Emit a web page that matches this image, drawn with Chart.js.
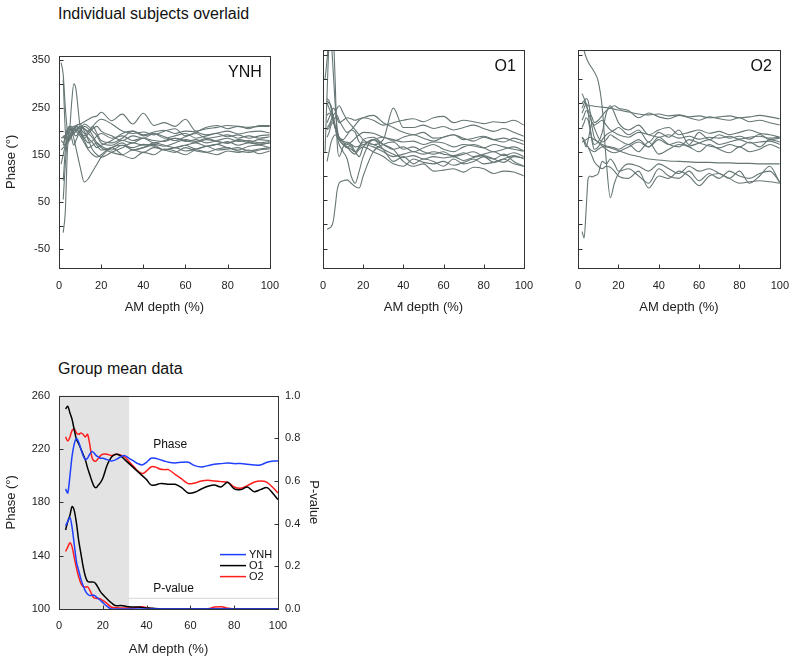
<!DOCTYPE html>
<html><head><meta charset="utf-8">
<script src="https://cdn.jsdelivr.net/npm/chart.js@4.4.1/dist/chart.umd.min.js"></script>
<style>
html,body{margin:0;padding:0;background:#fff;}
#wrap{position:relative;width:800px;height:659px;overflow:hidden;font-family:"Liberation Sans",Arial,sans-serif;background:#fff;}
canvas{position:absolute;}
.title{position:absolute;font-size:16px;line-height:16px;color:#111;white-space:nowrap;}
</style></head><body>
<div id="wrap">
<div class="title" style="left:58px;top:6px;">Individual subjects overlaid</div>
<div class="title" style="left:58px;top:361px;">Group mean data</div>
<canvas id="c1" width="290" height="279" style="left:0px;top:40px;"></canvas>
<canvas id="c2" width="235" height="279" style="left:309px;top:40px;"></canvas>
<canvas id="c3" width="236" height="279" style="left:564px;top:40px;"></canvas>
<canvas id="c4" width="325" height="279" style="left:0px;top:380px;"></canvas>
</div>
<script>
// ---------- top panels: individual subjects ----------
const X_TOP = [1,2,3,4,5,6,7,8,10,12,14,16,18,20,25,30,35,40,45,50,55,60,65,70,75,80,85,90,95,100];
const TOP_Y_TICKS = [-50,0,50,100,150,200,250,300,350];
const TOP_Y_LABELS = [-50,50,150,250,350];
const X_TICKS = [0,20,40,60,80,100];
const X_TICK_MARKS = [20,40,60,80];

const YNH_SUBJECTS = [
 [345,320,250,200,190,195,205,210,200,185,175,180,190,195,185,190,180,185,175,180,185,178,182,175,180,185,178,180,175,178],
 [null,310,200,180,185,195,200,205,195,180,165,170,175,168,160,170,165,172,168,160,165,170,162,168,172,165,160,168,170,165],
 [null,190,185,180,200,260,300,290,210,190,200,210,195,180,175,185,200,190,195,185,190,195,185,190,195,188,192,185,190,192],
 [null,-15,30,160,185,190,195,200,210,205,195,185,170,160,165,175,160,165,170,160,165,158,162,168,160,162,165,158,162,165],
 [null,170,190,205,210,200,185,165,125,92,100,115,130,145,165,170,160,165,175,170,165,170,175,168,172,178,170,175,172,175],
 [null,55,130,185,205,210,195,190,200,210,205,190,175,165,155,150,160,155,165,160,155,165,158,155,162,165,158,155,160,162],
 [null,95,160,205,200,185,170,180,200,215,210,200,190,175,170,180,175,185,180,178,185,180,176,182,178,174,180,176,182,180],
 [null,170,185,195,200,205,210,212,215,220,225,230,232,240,222,236,215,238,212,218,210,225,200,205,208,212,210,208,210,210],
 [null,185,190,200,210,205,195,200,210,205,200,210,220,225,215,200,195,198,192,200,205,190,198,208,212,205,210,205,212,212],
 [130,150,170,185,190,200,205,200,190,175,160,150,145,150,165,150,142,155,150,162,158,150,160,155,150,158,155,160,152,158],
 [185,188,192,195,200,205,210,205,195,185,195,205,210,200,190,180,190,185,195,188,180,188,195,185,188,192,185,190,185,188],
 [180,175,170,175,180,190,200,210,215,200,180,160,150,145,155,165,175,170,172,168,175,182,178,185,178,175,182,178,172,175],
 [160,165,170,180,190,195,205,210,205,195,185,175,165,170,180,195,200,192,198,202,195,200,198,192,196,200,194,198,200,196]
];
const O1_SUBJECTS = [
 [150,270,380,420,400,300,170,140,160,170,165,150,140,160,175,165,155,160,150,158,165,155,150,160,165,158,150,155,160,152],
 [300,340,390,380,320,250,200,180,175,185,195,190,170,165,175,180,172,180,185,178,172,180,185,175,178,182,175,170,178,172],
 [null,-10,-8,-5,5,35,70,85,90,92,85,78,75,100,150,165,170,155,160,150,145,150,140,145,150,140,135,145,130,120],
 [null,250,240,230,220,200,180,165,150,135,100,85,110,140,175,155,130,140,125,135,130,120,135,125,130,140,128,135,142,135],
 [null,210,220,230,240,235,220,210,215,220,218,215,218,220,215,205,210,215,218,212,220,223,210,215,212,208,212,210,215,205],
 [null,200,205,215,225,230,240,245,230,215,205,195,185,175,165,175,240,200,200,205,198,202,195,200,205,198,192,198,190,182],
 [null,260,255,240,225,205,190,175,165,158,165,160,162,170,165,155,145,138,142,135,140,137,140,132,138,142,135,128,140,137],
 [null,255,250,245,220,200,185,175,172,168,160,150,160,175,180,165,155,130,120,125,110,112,115,108,118,115,105,110,108,100],
 [null,195,200,210,215,220,225,215,200,190,195,205,215,220,225,210,200,190,185,190,178,180,185,178,172,180,175,178,172,165],
 [null,225,230,225,215,200,190,180,170,165,170,178,185,190,188,180,175,170,172,165,170,168,160,165,162,158,165,160,155,151],
 [null,180,190,205,210,200,190,175,165,160,155,150,158,165,160,150,140,145,150,145,150,145,142,148,140,145,150,142,148,140],
 [null,130,150,170,180,185,182,178,170,160,150,145,155,160,150,140,125,120,135,128,125,130,122,128,135,125,128,135,125,120]
];
const O2_SUBJECTS = [
 [null,380,358,345,335,328,322,315,295,240,130,55,85,105,125,120,110,125,115,105,120,110,115,105,95,85,88,90,88,85],
 [null,-15,-28,30,95,100,98,100,105,130,125,135,125,110,115,100,85,115,100,95,110,90,105,95,110,100,95,105,110,88],
 [null,240,250,260,255,230,200,180,170,162,160,158,155,152,145,140,135,133,131,130,129,128,128,127,127,126,126,125,125,125],
 [null,250,255,250,245,245,245,244,243,242,241,240,238,236,232,228,226,228,224,226,222,224,220,222,224,220,222,225,222,218],
 [null,270,260,245,235,230,220,210,215,225,235,240,245,240,235,220,230,222,218,225,220,215,222,218,215,220,212,215,210,205],
 [null,230,240,250,230,200,175,165,170,190,230,245,230,210,195,205,185,195,200,185,190,195,188,192,185,190,195,188,185,180],
 [null,200,210,220,215,195,170,155,160,175,185,190,195,200,185,195,170,190,180,195,165,190,175,185,178,182,176,186,175,178],
 [null,180,170,160,175,195,210,200,180,170,175,185,180,175,165,175,160,180,165,160,175,168,162,158,165,160,170,160,175,170],
 [null,215,225,235,230,220,210,205,210,215,205,195,190,185,180,190,185,180,185,178,182,176,180,178,182,176,180,182,178,180],
 [null,170,172,175,178,180,178,175,170,165,162,160,158,155,165,150,170,145,155,165,160,150,165,155,148,160,150,155,165,157],
 [null,null,null,null,160,150,140,130,120,115,120,118,110,100,95,110,75,100,95,110,100,80,100,105,95,110,85,100,120,85],
 [null,180,175,165,160,155,152,150,155,160,155,150,148,150,160,170,160,175,165,170,162,168,175,165,170,175,168,170,172,165]
];

// ---------- bottom panel: group means ----------
const X_GROUP = [3,4,5,6,7,8,9,10,11,12,13,14,15,16,17,18,19,20,22,24,26,28,30,32,34,36,38,40,42,44,46,48,50,53,56,59,62,65,68,71,74,77,80,83,86,89,92,95,98,100];
const YNH_PHASE = [190,187,200,215,224,228,225,220,215,212,213,216,218,217,215,214,213,213,
  212,211,212,214,215,213,211,209,208,210,213,213,212,211,210,
  209.5,210,210,207.5,206.5,207.5,208.5,209,209.5,209,209,208.5,208,208,210,211,211];
const O1_PHASE = [250,252,247,242,234,227,224,220,216,212,206,201,196,192,191,193,195,198,
  208,214,216,215,212,209,206,203,200,197,193,193,194,194,193.5,
  193.5,191,187,187.5,190,192,193,191.5,195,190,189.5,191.5,188,189.5,191,186,182];
const O2_PHASE = [229,226,229,234,235,232,231,232,231,229,231,224,214,211,211,213,215,216,
  216,215,216,215.5,214,210.5,207,203.5,201.5,203.5,206.5,206.5,205,204.5,204.5,
  201,197.5,194,194.5,196,196.5,196,195.5,195,191.5,190.5,192.5,195,196,195,190.5,187];
const YNH_P = [0.39,0.41,0.43,0.38,0.30,0.22,0.18,0.14,0.11,0.085,0.07,0.063,0.064,0.065,0.057,0.048,0.04,0.03,
  0.012,0,0,0,0,0,0,0,0,0,0,0,0,0,0,
  0,0,0,0,0,0,0,0,0,0,0,0,0,0,0,0,0];
const O1_P = [0.37,0.41,0.44,0.48,0.46,0.40,0.32,0.26,0.20,0.155,0.13,0.126,0.127,0.126,0.115,0.098,0.08,0.068,
  0.047,0.028,0.015,0.016,0.014,0.01,0.009,0.009,0.007,0.005,0.004,0.002,0.001,0,0,
  0,0,0,0,0,0,0,0,0,0,0,0,0,0,0,0,0];
const O2_P = [0.27,0.29,0.31,0.29,0.24,0.19,0.15,0.12,0.105,0.103,0.104,0.09,0.068,0.052,0.05,0.049,0.047,0.04,
  0.025,0.008,0.006,0.005,0.005,0.005,0.005,0.008,0.011,0.006,0.002,0,0,0,0,
  0,0,0,0,0,0.001,0.009,0.011,0.004,0,0,0,0,0,0,0,0];
const SHADE_END = 32;
const THRESH_X = [32,100];
const THRESH_P = 0.05;
const GROUP_Y_TICKS = [100,140,180,220,260];
const P_TICKS = [0,0.2,0.4,0.6,0.8,1.0];
const GROUP_NAMES = ['YNH','O1','O2'];
const GROUP_COLORS = ['#2040ff','#000000','#ff1e1e'];

const LINE_GRAY = '#667675';
const FONT = '"Liberation Sans", Arial, sans-serif';
Chart.defaults.font.family = FONT;
Chart.defaults.color = '#222';

function setTicks(values) {
  return function (s) { s.ticks = values.map(v => ({value: v})); };
}

const framePlugin = {
  id: 'frame',
  beforeDatasetsDraw(chart, args, opts) {
    if (opts.shadeEnd == null) return;
    const {ctx, chartArea: a} = chart;
    const xe = chart.scales.x.getPixelForValue(opts.shadeEnd);
    ctx.save();
    ctx.fillStyle = '#e3e3e3';
    ctx.fillRect(a.left, a.top, xe - a.left, a.bottom - a.top);
    ctx.restore();
  },
  afterDraw(chart, args, opts) {
    const {ctx, chartArea: a} = chart;
    ctx.save();
    ctx.strokeStyle = '#333'; ctx.lineWidth = 1;
    const L = Math.round(a.left) + 0.5, T = Math.round(a.top) + 0.5;
    ctx.strokeRect(L, T, Math.round(a.right) - Math.round(a.left), Math.round(a.bottom) - Math.round(a.top));
    (opts.marks || []).forEach(m => {
      const s = chart.scales[m.axis];
      m.values.forEach(v => {
        const p = Math.round(s.getPixelForValue(v)) + 0.5;
        ctx.beginPath();
        if (m.side === 'left') { ctx.moveTo(L, p); ctx.lineTo(L + 4, p); }
        else if (m.side === 'right') { ctx.moveTo(Math.round(a.right)+0.5, p); ctx.lineTo(Math.round(a.right) - 3.5, p); }
        else { ctx.moveTo(p, Math.round(a.bottom)+0.5); ctx.lineTo(p, Math.round(a.bottom) - 3.5); }
        ctx.stroke();
      });
    });
    ctx.fillStyle = '#111';
    if (opts.label) {
      ctx.font = '16px ' + FONT;
      ctx.textAlign = 'right'; ctx.textBaseline = 'middle';
      ctx.fillText(opts.label, a.right - 8, a.top + 17);
    }
    (opts.notes || []).forEach(n => {
      ctx.font = '12px ' + FONT;
      ctx.textAlign = 'left'; ctx.textBaseline = 'middle';
      ctx.fillText(n.text, chart.scales.x.getPixelForValue(n.x), chart.scales[n.axis].getPixelForValue(n.y));
    });
    if (opts.legend) {
      ctx.font = '11px ' + FONT;
      ctx.textAlign = 'left'; ctx.textBaseline = 'middle';
      const x0 = a.right - 58, y0 = a.top + 159;
      opts.legend.forEach((it, i) => {
        const y = y0 + i * 11;
        ctx.strokeStyle = it.color; ctx.lineWidth = 1.5;
        ctx.beginPath(); ctx.moveTo(x0, y); ctx.lineTo(x0 + 26, y); ctx.stroke();
        ctx.fillStyle = '#111';
        ctx.fillText(it.name, x0 + 29, y + 0.5);
      });
    }
    ctx.restore();
  }
};

function topChart(id, curves, showY, name, padRight) {
  const datasets = curves.map(c => ({
    data: X_TOP.map((x, i) => ({x: x, y: c[i]})).filter(p => p.y !== null),
    borderColor: LINE_GRAY, borderWidth: 1.1, pointRadius: 0,
    cubicInterpolationMode: 'monotone', fill: false
  }));
  new Chart(document.getElementById(id), {
    type: 'line',
    data: {datasets},
    options: {
      responsive: false, animation: false, devicePixelRatio: 1,
      layout: {padding: {top: 10, right: padRight, left: 0, bottom: 0}},
      plugins: {legend: {display: false}, tooltip: {enabled: false},
        frame: {marks: [{axis: 'y', side: 'left', values: TOP_Y_TICKS}, {axis: 'x', side: 'bottom', values: X_TICK_MARKS}], label: name}},
      scales: {
        x: {type: 'linear', min: 0, max: 100,
          grid: {display: false, drawTicks: false}, border: {display: false},
          afterBuildTicks: setTicks(X_TICKS),
          ticks: {padding: 11, font: {size: 11}, color: '#222', autoSkip: false, maxRotation: 0},
          title: {display: true, text: 'AM depth (%)', font: {size: 13}, color: '#222', padding: {top: 4, bottom: 4}},
          afterFit(s) { s.height = 51; }},
        y: {type: 'linear', min: -90, max: 360,
          grid: {display: false, drawTicks: false}, border: {display: false},
          afterBuildTicks: setTicks(TOP_Y_TICKS),
          ticks: {display: showY, padding: 9, font: {size: 11}, color: '#222', autoSkip: false,
            callback: v => TOP_Y_LABELS.includes(v) ? String(v) : ''},
          title: {display: showY, text: 'Phase (°)', font: {size: 13}, color: '#222', padding: {top: 4, bottom: 4}},
          afterFit(s) { s.width = showY ? 59 : 5; }}
      }
    },
    plugins: [framePlugin]
  });
}

topChart('c1', YNH_SUBJECTS, true, 'YNH', 12);
topChart('c2', O1_SUBJECTS, false, 'O1', 12);
topChart('c3', O2_SUBJECTS, false, 'O2', 13);

const phases = [YNH_PHASE, O1_PHASE, O2_PHASE];
const pvals = [YNH_P, O1_P, O2_P];
const gds = [{
  data: THRESH_X.map(x => ({x: x, y: THRESH_P})), yAxisID: 'y2',
  borderColor: '#d6d6d6', borderWidth: 1, pointRadius: 0, fill: false
}];
GROUP_NAMES.forEach((n, k) => {
  gds.push({label: n + ' phase', data: X_GROUP.map((x, i) => ({x: x, y: phases[k][i]})), yAxisID: 'y',
    borderColor: GROUP_COLORS[k], borderWidth: 1.5, pointRadius: 0, tension: 0.3, fill: false});
  gds.push({label: n + ' p', data: X_GROUP.map((x, i) => ({x: x, y: pvals[k][i]})), yAxisID: 'y2',
    borderColor: GROUP_COLORS[k], borderWidth: 1.5, pointRadius: 0, cubicInterpolationMode: 'monotone', fill: false});
});

new Chart(document.getElementById('c4'), {
  type: 'line',
  data: {datasets: gds},
  options: {
    responsive: false, animation: false, devicePixelRatio: 1,
    layout: {padding: {top: 12, right: 0, left: 0, bottom: 0}},
    plugins: {legend: {display: false}, tooltip: {enabled: false},
      frame: {
        shadeEnd: SHADE_END,
        marks: [{axis: 'y', side: 'left', values: GROUP_Y_TICKS.slice(1, -1)}, {axis: 'y2', side: 'right', values: P_TICKS.slice(1, -1)}, {axis: 'x', side: 'bottom', values: X_TICK_MARKS}],
        notes: [{text: 'Phase', x: 43, y: 223, axis: 'y'}, {text: 'P-value', x: 43, y: 0.097, axis: 'y2'}],
        legend: GROUP_NAMES.map((n, k) => ({name: n, color: GROUP_COLORS[k]}))
      }},
    scales: {
      x: {type: 'linear', min: 0, max: 100,
        grid: {display: false, drawTicks: false}, border: {display: false},
        afterBuildTicks: setTicks(X_TICKS),
        ticks: {padding: 10, font: {size: 11}, color: '#222', autoSkip: false, maxRotation: 0},
        title: {display: true, text: 'AM depth (%)', font: {size: 13}, color: '#222', padding: {top: 4, bottom: 2}},
        afterFit(s) { s.height = 50; }},
      y: {type: 'linear', position: 'left', min: 100, max: 260,
        grid: {display: false, drawTicks: false}, border: {display: false},
        afterBuildTicks: setTicks(GROUP_Y_TICKS),
        ticks: {padding: 9, font: {size: 11}, color: '#222', autoSkip: false},
        title: {display: true, text: 'Phase (°)', font: {size: 13}, color: '#222', padding: {top: 4, bottom: 4}},
        afterFit(s) { s.width = 59; }},
      y2: {type: 'linear', position: 'right', min: 0, max: 1,
        grid: {display: false, drawTicks: false}, border: {display: false},
        afterBuildTicks: setTicks(P_TICKS),
        ticks: {padding: 7, font: {size: 11}, color: '#222', autoSkip: false, callback: v => Number(v).toFixed(1)},
        title: {display: true, text: 'P-value', font: {size: 13}, color: '#222', padding: {top: 4, bottom: 4}},
        afterFit(s) { s.width = 47; }}
    }
  },
  plugins: [framePlugin]
});
</script>
</body></html>
